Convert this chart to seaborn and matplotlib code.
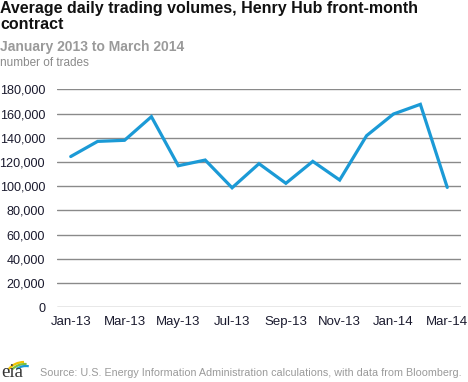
import matplotlib
matplotlib.use("Agg")
import matplotlib.pyplot as plt
import seaborn as sns
import pandas as pd
from matplotlib.patches import Arc

months = ["Jan-13", "Feb-13", "Mar-13", "Apr-13", "May-13", "Jun-13", "Jul-13",
          "Aug-13", "Sep-13", "Oct-13", "Nov-13", "Dec-13", "Jan-14", "Feb-14", "Mar-14"]
trades = [124500, 137000, 137900, 157400, 116900, 121600, 98700,
          118600, 102400, 120500, 105100, 141700, 159600, 167600, 99000]
yticks = [0, 20000, 40000, 60000, 80000, 100000, 120000, 140000, 160000, 180000]

df = pd.DataFrame({"idx": range(len(months)), "month": months, "trades": trades})

sns.set_theme(style="white")
plt.rcParams["font.family"] = ["Liberation Sans", "DejaVu Sans"]

fig = plt.figure(figsize=(4.68, 3.82), dpi=100)
ax = fig.add_axes([0.1224, 0.1955, 0.862, 0.5707])

sns.lineplot(data=df, x="idx", y="trades", ax=ax, color="#1b9ad6", linewidth=2.3,
             solid_joinstyle="miter")

ax.set_xlim(-0.5, len(months) - 0.5)
ax.set_ylim(0, 180000)
ax.set_yticks(yticks)
ax.set_yticklabels([f"{v:,}" for v in yticks])
ax.set_xticks(list(range(0, len(months), 2)))
ax.set_xticklabels(months[::2])
for y in yticks:
    ax.axhline(y, color="#8a8a8a", linewidth=1.0, zorder=0)
for s in ax.spines.values():
    s.set_visible(False)
ax.tick_params(axis="both", length=0, colors="#1a1a2e")
ax.tick_params(axis="x", labelsize=9.5, pad=6.5)
ax.tick_params(axis="y", labelsize=9.1, pad=8.8)
ax.set_xlabel("")
ax.set_ylabel("")

fig.text(0.0, 1 - 0.5 / 382, "Average daily trading volumes, Henry Hub front-month\ncontract",
         fontsize=11.5, fontweight="bold", color="#111111", va="top", ha="left",
         linespacing=1.12)
fig.text(0.0, 1 - 46.5 / 382, "January 2013 to March 2014", fontsize=10,
         fontweight="bold", color="#9a9a9a", va="center", ha="left")
fig.text(0.0, 1 - 62.5 / 382, "number of trades", fontsize=8.5,
         color="#8a8a8a", va="center", ha="left")
fig.text(40 / 468, 1 - 372.5 / 382,
         "Source: U.S. Energy Information Administration calculations, with data from Bloomberg.",
         fontsize=7.75, color="#9a9a9a", va="center", ha="left")

# eia logo
fig.text(1 / 468, 1 / 382, "eia", fontsize=13.5, family="Liberation Serif",
         color="#333333", va="bottom", ha="left")
lax = fig.add_axes([0, 0, 1, 1], facecolor="none")
lax.set_xlim(0, 468)
lax.set_ylim(0, 382)
lax.axis("off")
for cx, r, t1, t2, c in [(24, 20, 90, 140, "#f2c200"), (25, 18, 85, 135, "#7cbf3f"),
                         (26, 16, 80, 125, "#1b9ad6")]:
    lax.add_patch(Arc((cx, 0), 2 * r, 2 * r, theta1=t1, theta2=t2,
                      color=c, linewidth=1.6))

fig.savefig("out.png", dpi=100)
